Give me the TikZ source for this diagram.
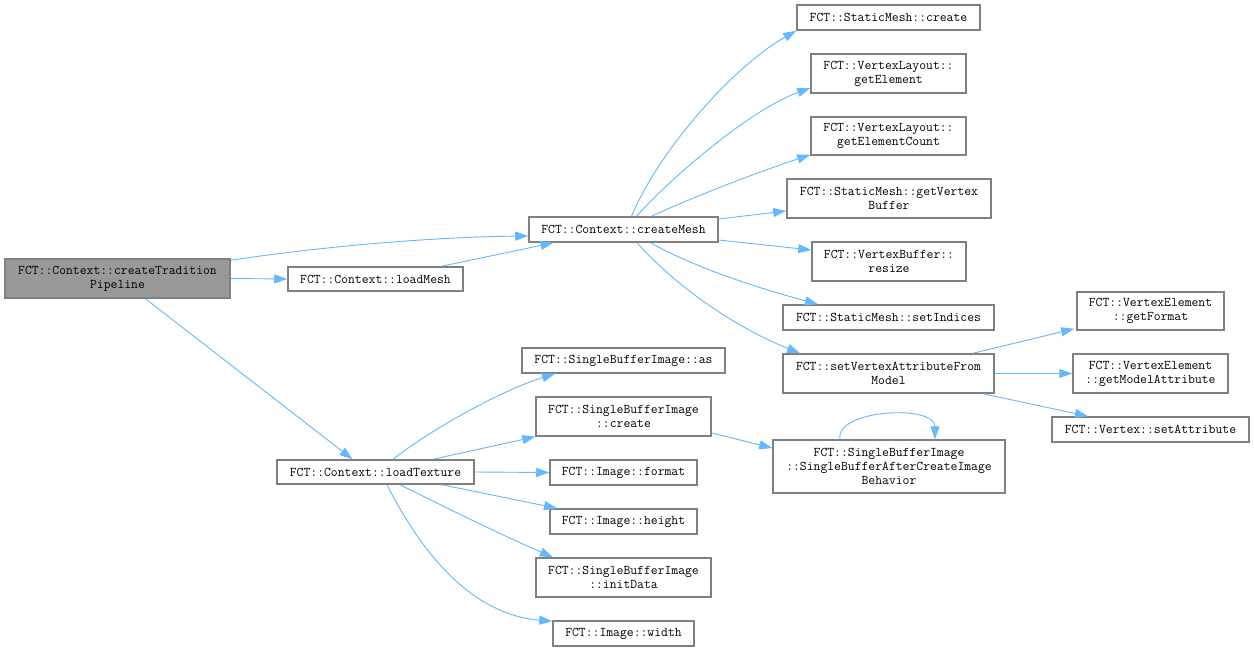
\documentclass[tikz,border=0pt]{standalone}
\usetikzlibrary{arrows.meta}
\definecolor{edgeblue}{HTML}{63B8FF}
\definecolor{boxgray}{HTML}{808080}
\definecolor{mainfill}{HTML}{999999}
\begin{document}
\begin{tikzpicture}[x=1pt,y=-1pt,
  fn/.style={draw=boxgray, line width=1.5pt, fill=white, inner sep=0pt, align=center,
    font={\ttfamily\fontsize{13.3}{14}\selectfont}},
  edge/.style={draw=edgeblue, line width=0.9pt, -{Triangle[length=13pt,width=9pt]}}]
\fill[white] (0,0) rectangle (1254,651);
\path[use as bounding box] (0,0) rectangle (1254,651);

% nodes
\node[fn, fill=mainfill, minimum width=225pt, minimum height=39pt] (trad) at (117.5,278.5) {FCT::Context::createTradition\\Pipeline};
\node[fn, minimum width=175pt, minimum height=24pt] (lm) at (375.5,279) {FCT::Context::loadMesh};
\node[fn, minimum width=189pt, minimum height=25pt] (cm) at (623.5,229.5) {FCT::Context::createMesh};
\node[fn, minimum width=183pt, minimum height=25pt] (smc) at (888.5,17.5) {FCT::StaticMesh::create};
\node[fn, minimum width=155pt, minimum height=39pt] (ge) at (888.5,73.5) {FCT::VertexLayout::\\getElement};
\node[fn, minimum width=155pt, minimum height=38pt] (gec) at (888.5,136) {FCT::VertexLayout::\\getElementCount};
\node[fn, minimum width=204pt, minimum height=39pt] (gvb) at (889,198.5) {FCT::StaticMesh::getVertex\\Buffer};
\node[fn, minimum width=154pt, minimum height=39pt] (rs) at (889,261.5) {FCT::VertexBuffer::\\resize};
\node[fn, minimum width=211pt, minimum height=25pt] (si) at (888.5,317.5) {FCT::StaticMesh::setIndices};
\node[fn, minimum width=211pt, minimum height=39pt] (sva) at (888.5,373.5) {FCT::setVertexAttributeFrom\\Model};
\node[fn, minimum width=147pt, minimum height=38pt] (gf) at (1150.5,311) {FCT::VertexElement\\::getFormat};
\node[fn, minimum width=155pt, minimum height=39pt] (gma) at (1150.5,373.5) {FCT::VertexElement\\::getModelAttribute};
\node[fn, minimum width=197pt, minimum height=25pt] (sa) at (1150.5,429.5) {FCT::Vertex::setAttribute};
\node[fn, minimum width=232pt, minimum height=53pt] (sba) at (889,466.5) {FCT::SingleBufferImage\\::SingleBufferAfterCreateImage\\Behavior};
\node[fn, minimum width=203pt, minimum height=25pt] (sbas) at (623.5,360.5) {FCT::SingleBufferImage::as};
\node[fn, minimum width=175pt, minimum height=39pt] (sbc) at (623.5,416.5) {FCT::SingleBufferImage\\::create};
\node[fn, minimum width=197pt, minimum height=24pt] (lt) at (375.5,472) {FCT::Context::loadTexture};
\node[fn, minimum width=147pt, minimum height=25pt] (fmt) at (623.5,472.5) {FCT::Image::format};
\node[fn, minimum width=147pt, minimum height=25pt] (hgt) at (623.5,521.5) {FCT::Image::height};
\node[fn, minimum width=175pt, minimum height=39pt] (ind) at (623.5,577.5) {FCT::SingleBufferImage\\::initData};
\node[fn, minimum width=141pt, minimum height=25pt] (wid) at (623.5,633.5) {FCT::Image::width};

% edges
\draw[edge] ([yshift=-2pt]trad.north east) .. controls +(100,-15) and +(-90,1) .. ([yshift=-6.5pt]cm.west);
\draw[edge] (trad.east) -- (lm.west);
\draw[edge] ([xshift=28pt]trad.south) -- ([xshift=-23pt]lt.north);
\draw[edge] ([xshift=66pt]lm.north) -- ([xshift=-70pt]cm.south);

\draw[edge] ([xshift=8pt]cm.north) .. controls +(28,-67) and +(-62,35) .. (smc.south west);
\draw[edge] ([xshift=13pt]cm.north) .. controls +(33,-37) and +(-61,22) .. ([yshift=-14.5pt]ge.west);
\draw[edge] ([xshift=28pt]cm.north) .. controls +(48,-22) and +(-51,17) .. ([yshift=1pt]gec.south west);
\draw[edge] ([yshift=10.5pt]cm.east) -- ([yshift=-12.5pt]gvb.west);
\draw[edge] ([yshift=-10.5pt]cm.east) -- ([yshift=11.5pt]rs.west);
\draw[edge] ([xshift=27pt]cm.south) .. controls +(50,28) and +(-48,-13) .. ([xshift=-70.5pt]si.north);
\draw[edge] ([xshift=13.5pt]cm.south) .. controls +(43,48) and +(-60,-24) .. ([xshift=-88.5pt]sva.north);

\draw[edge] ([xshift=84.5pt]sva.north) -- ([xshift=-2pt,yshift=2pt]gf.south west);
\draw[edge] (sva.east) -- (gma.west);
\draw[edge] ([xshift=94.5pt]sva.south) -- ([xshift=-62.5pt]sa.north);

\draw[edge] ([xshift=17.5pt]lt.north) .. controls +(37,-29) and +(-55,17) .. ([xshift=-68.5pt]sbas.south);
\draw[edge] ([xshift=57.5pt]lt.north) -- (sbc.south west);
\draw[edge] (lt.east) -- (fmt.west);
\draw[edge] ([xshift=66.5pt]lt.south) -- ([xshift=-66.5pt]hgt.north);
\draw[edge] ([xshift=24.5pt]lt.south) .. controls +(40,20) and +(-53,-23) .. ([xshift=-70.5pt]ind.north);
\draw[edge] ([xshift=11.5pt]lt.south) .. controls +(33,65) and +(-83,-7) .. ([yshift=-1pt]wid.north west);

\draw[edge] ([yshift=-16.5pt]sbc.east) -- ([yshift=18.5pt]sba.west);
\draw[edge] ([xshift=-49pt]sba.north) .. controls +(-5,-30) and +(0,-35) .. ([xshift=46pt]sba.north);
\end{tikzpicture}
\end{document}
